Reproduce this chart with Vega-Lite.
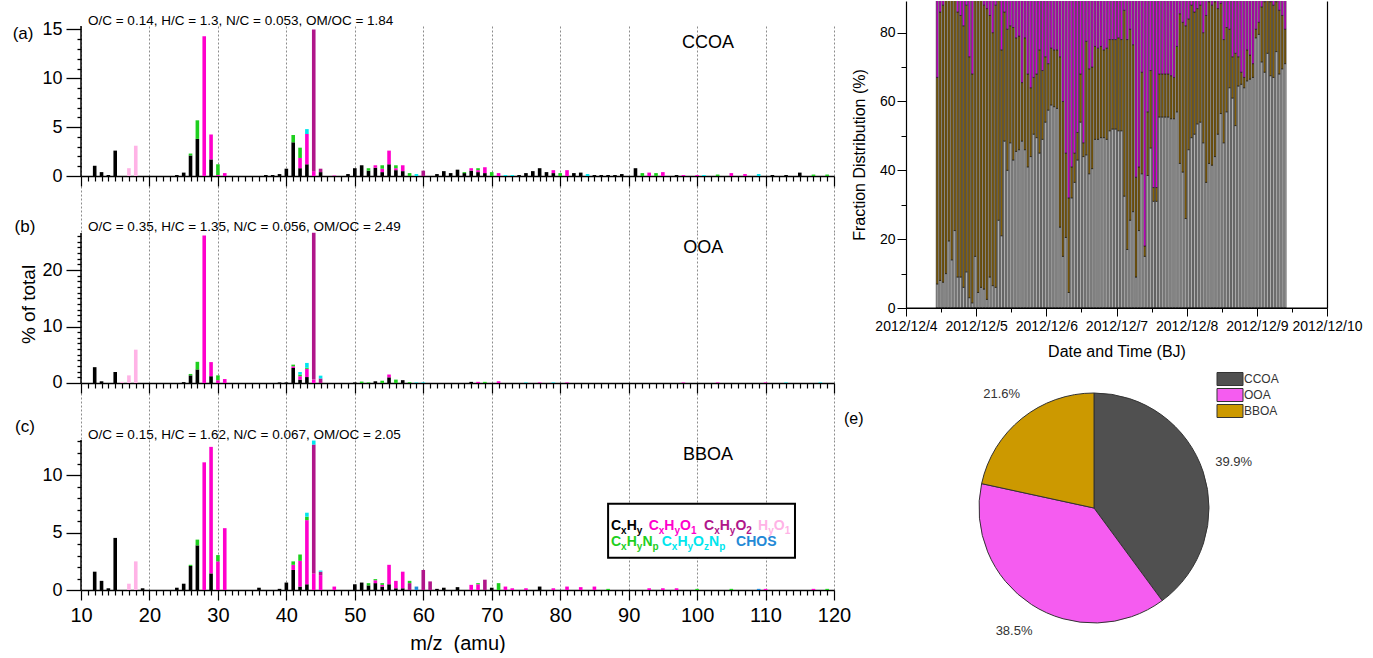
{
"$schema": "https://vega.github.io/schema/vega-lite/v6.json",
"background": "white",
"padding": {"left": 12, "top": 0, "right": 0, "bottom": 0},
"config": {
  "font": "Liberation Sans",
  "view": {"stroke": null},
  "axis": {"labelFont": "Liberation Sans", "titleFont": "Liberation Sans", "labelColor": "#000", "titleColor": "#000", "domainColor": "#000", "tickColor": "#000", "titleFontWeight": "normal", "grid": false, "labelOverlap": false, "labelFlush": false, "labelBound": false},
  "text": {"font": "Liberation Sans", "color": "#000"},
  "title": {"font": "Liberation Sans"},
  "legend": {"labelFont": "Liberation Sans"}
},
"datasets": {
  "specA": [
    {"mz":12,"fam":"CxHy","v":1.05},{"mz":13,"fam":"CxHy","v":0.4},{"mz":14,"fam":"CxHy","v":0.1},{"mz":15,"fam":"CxHy","v":2.6},
    {"mz":17,"fam":"HyO1","v":0.8},{"mz":18,"fam":"HyO1","v":3.1},{"mz":24,"fam":"CxHy","v":0.1},{"mz":25,"fam":"CxHy","v":0.35},
    {"mz":26,"fam":"CxHy","v":2.1},{"mz":26,"fam":"CxHyNp","v":0.2},
    {"mz":27,"fam":"CxHy","v":3.8},{"mz":27,"fam":"CxHyNp","v":1.9},
    {"mz":28,"fam":"CxHyO1","v":14.3},
    {"mz":29,"fam":"CxHy","v":1.7},{"mz":29,"fam":"CxHyO1","v":2.55},
    {"mz":30,"fam":"CxHyO1","v":0.1},{"mz":30,"fam":"CxHyNp","v":1.1},
    {"mz":31,"fam":"CxHyO1","v":0.3},{"mz":37,"fam":"CxHy","v":0.1},{"mz":38,"fam":"CxHy","v":0.1},{"mz":39,"fam":"CxHy","v":0.2},
    {"mz":40,"fam":"CxHy","v":0.75},
    {"mz":41,"fam":"CxHy","v":3.45},{"mz":41,"fam":"CxHyNp","v":0.75},
    {"mz":42,"fam":"CxHy","v":0.8},{"mz":42,"fam":"CxHyO1","v":1.05},{"mz":42,"fam":"CxHyNp","v":1.05},
    {"mz":43,"fam":"CxHy","v":1.2},{"mz":43,"fam":"CxHyO1","v":3.1},{"mz":43,"fam":"CxHyOzNp","v":0.5},
    {"mz":44,"fam":"CxHyO1","v":0.5},{"mz":44,"fam":"CxHyO2","v":14.5},
    {"mz":45,"fam":"CxHy","v":0.4},{"mz":45,"fam":"CxHyO2","v":0.35},
    {"mz":47,"fam":"CxHyO1","v":0.05},{"mz":49,"fam":"CxHy","v":0.2},{"mz":50,"fam":"CxHy","v":0.8},{"mz":51,"fam":"CxHy","v":1.1},
    {"mz":52,"fam":"CxHy","v":0.55},{"mz":52,"fam":"CxHyNp","v":0.25},
    {"mz":53,"fam":"CxHy","v":0.85},{"mz":53,"fam":"CxHyO1","v":0.25},
    {"mz":54,"fam":"CxHy","v":0.4},{"mz":54,"fam":"CxHyO1","v":0.35},{"mz":54,"fam":"CxHyNp","v":0.35},
    {"mz":55,"fam":"CxHy","v":1.2},{"mz":55,"fam":"CxHyO1","v":1.4},
    {"mz":56,"fam":"CxHy","v":0.6},{"mz":56,"fam":"CxHyO1","v":0.2},{"mz":56,"fam":"CxHyNp","v":0.3},
    {"mz":57,"fam":"CxHy","v":0.5},{"mz":57,"fam":"CxHyO1","v":0.6},
    {"mz":58,"fam":"CxHyNp","v":0.3},{"mz":59,"fam":"CxHyOzNp","v":0.2},{"mz":60,"fam":"CxHyO2","v":0.55},
    {"mz":62,"fam":"CxHy","v":0.2},{"mz":63,"fam":"CxHy","v":0.5},{"mz":64,"fam":"CxHy","v":0.3},{"mz":65,"fam":"CxHy","v":0.65},
    {"mz":66,"fam":"CxHy","v":0.3},{"mz":66,"fam":"CxHyNp","v":0.1},
    {"mz":67,"fam":"CxHy","v":0.55},{"mz":67,"fam":"CxHyO1","v":0.25},
    {"mz":68,"fam":"CxHy","v":0.4},{"mz":68,"fam":"CxHyO1","v":0.2},{"mz":68,"fam":"CxHyNp","v":0.2},
    {"mz":69,"fam":"CxHy","v":0.3},{"mz":69,"fam":"CxHyO1","v":0.6},
    {"mz":70,"fam":"CxHyNp","v":0.4},{"mz":71,"fam":"CxHyO1","v":0.3},{"mz":72,"fam":"CxHyOzNp","v":0.1},{"mz":73,"fam":"CxHyOzNp","v":0.1},
    {"mz":74,"fam":"CxHy","v":0.1},{"mz":75,"fam":"CxHy","v":0.3},{"mz":76,"fam":"CxHy","v":0.5},{"mz":77,"fam":"CxHy","v":0.8},{"mz":78,"fam":"CxHy","v":0.4},
    {"mz":79,"fam":"CxHy","v":0.3},{"mz":79,"fam":"CxHyO1","v":0.3},
    {"mz":80,"fam":"CxHyNp","v":0.3},{"mz":81,"fam":"CxHyO1","v":0.6},{"mz":82,"fam":"CxHy","v":0.3},{"mz":83,"fam":"CxHy","v":0.35},{"mz":84,"fam":"CxHyOzNp","v":0.2},
    {"mz":85,"fam":"CxHy","v":0.1},{"mz":86,"fam":"CxHy","v":0.1},{"mz":87,"fam":"CxHy","v":0.1},{"mz":88,"fam":"CxHy","v":0.1},{"mz":89,"fam":"CxHy","v":0.2},
    {"mz":91,"fam":"CxHy","v":0.8},{"mz":92,"fam":"CxHyNp","v":0.3},{"mz":93,"fam":"CxHyO1","v":0.35},{"mz":94,"fam":"CxHyNp","v":0.3},{"mz":95,"fam":"CxHyO1","v":0.4},
    {"mz":97,"fam":"CxHy","v":0.1},{"mz":98,"fam":"CxHyO1","v":0.1},{"mz":100,"fam":"CxHyO1","v":0.1},{"mz":101,"fam":"CxHyOzNp","v":0.1},{"mz":103,"fam":"CxHyNp","v":0.15},
    {"mz":105,"fam":"CxHyO1","v":0.3},{"mz":107,"fam":"CxHyO1","v":0.2},{"mz":109,"fam":"CxHyOzNp","v":0.2},{"mz":111,"fam":"CxHy","v":0.1},{"mz":113,"fam":"CxHy","v":0.1},
    {"mz":115,"fam":"CxHy","v":0.35},{"mz":117,"fam":"CxHyNp","v":0.15},{"mz":119,"fam":"CxHyNp","v":0.15}
  ],
  "specB": [
    {"mz":12,"fam":"CxHy","v":2.8},{"mz":13,"fam":"CxHy","v":0.3},{"mz":15,"fam":"CxHy","v":1.95},{"mz":16,"fam":"HyO1","v":0.2},
    {"mz":17,"fam":"HyO1","v":1.35},{"mz":18,"fam":"HyO1","v":5.9},{"mz":25,"fam":"CxHy","v":0.15},
    {"mz":26,"fam":"CxHy","v":1.35},{"mz":26,"fam":"CxHyNp","v":0.25},
    {"mz":27,"fam":"CxHy","v":2.4},{"mz":27,"fam":"CxHyNp","v":1.35},
    {"mz":28,"fam":"CxHyO1","v":26.1},
    {"mz":29,"fam":"CxHy","v":1.2},{"mz":29,"fam":"CxHyO1","v":2.5},
    {"mz":30,"fam":"CxHyO1","v":0.5},{"mz":30,"fam":"CxHyNp","v":0.85},
    {"mz":31,"fam":"CxHyO1","v":0.7},{"mz":39,"fam":"CxHy","v":0.1},{"mz":40,"fam":"CxHy","v":0.1},
    {"mz":41,"fam":"CxHy","v":2.65},{"mz":41,"fam":"CxHyO1","v":0.3},{"mz":41,"fam":"CxHyNp","v":0.3},
    {"mz":42,"fam":"CxHy","v":0.6},{"mz":42,"fam":"CxHyO1","v":0.6},{"mz":42,"fam":"CxHyNp","v":0.3},{"mz":42,"fam":"CxHyOzNp","v":0.45},
    {"mz":43,"fam":"CxHy","v":1.05},{"mz":43,"fam":"CxHyO1","v":1.45},{"mz":43,"fam":"CxHyNp","v":0.2},{"mz":43,"fam":"CxHyOzNp","v":0.85},
    {"mz":44,"fam":"CxHyO1","v":0.6},{"mz":44,"fam":"CxHyO2","v":26.0},
    {"mz":45,"fam":"CxHyO2","v":0.8},{"mz":45,"fam":"CxHyOzNp","v":0.5},
    {"mz":50,"fam":"CxHy","v":0.1},{"mz":51,"fam":"CxHyNp","v":0.25},{"mz":52,"fam":"CxHyNp","v":0.1},{"mz":53,"fam":"CxHy","v":0.3},{"mz":54,"fam":"CxHyNp","v":0.4},
    {"mz":55,"fam":"CxHy","v":1.0},{"mz":55,"fam":"CxHyO1","v":0.5},
    {"mz":56,"fam":"CxHyNp","v":0.6},{"mz":57,"fam":"CxHy","v":0.5},{"mz":58,"fam":"CxHyNp","v":0.15},{"mz":59,"fam":"CxHyOzNp","v":0.1},{"mz":60,"fam":"CxHyOzNp","v":0.1},
    {"mz":67,"fam":"CxHy","v":0.2},{"mz":68,"fam":"CxHyO1","v":0.2},{"mz":69,"fam":"CxHyNp","v":0.2},{"mz":71,"fam":"CxHyO1","v":0.3},{"mz":75,"fam":"CxHyOzNp","v":0.1},
    {"mz":77,"fam":"CxHyO1","v":0.1},{"mz":79,"fam":"CxHyOzNp","v":0.1},{"mz":81,"fam":"CxHyO1","v":0.1},{"mz":98,"fam":"CxHyO1","v":0.1},{"mz":103,"fam":"CxHyO1","v":0.1},
    {"mz":110,"fam":"CxHyO1","v":0.1},{"mz":113,"fam":"CxHyOzNp","v":0.1},{"mz":118,"fam":"CxHyOzNp","v":0.1}
  ],
  "specC": [
    {"mz":12,"fam":"CxHy","v":1.6},{"mz":13,"fam":"CxHy","v":0.8},{"mz":14,"fam":"CxHy","v":0.15},{"mz":15,"fam":"CxHy","v":4.55},
    {"mz":17,"fam":"HyO1","v":0.55},{"mz":18,"fam":"HyO1","v":2.5},{"mz":19,"fam":"CxHy","v":0.15},{"mz":24,"fam":"CxHy","v":0.2},{"mz":25,"fam":"CxHy","v":0.55},
    {"mz":26,"fam":"CxHy","v":2.1},{"mz":26,"fam":"CxHyNp","v":0.1},
    {"mz":27,"fam":"CxHy","v":3.9},{"mz":27,"fam":"CxHyNp","v":0.5},
    {"mz":28,"fam":"CxHyO1","v":11.15},
    {"mz":29,"fam":"CxHy","v":1.45},{"mz":29,"fam":"CxHyO1","v":11.05},
    {"mz":30,"fam":"CxHyO1","v":2.5},{"mz":30,"fam":"CxHyNp","v":0.55},
    {"mz":31,"fam":"CxHyO1","v":5.4},{"mz":36,"fam":"CxHy","v":0.2},{"mz":39,"fam":"CxHy","v":0.1},{"mz":40,"fam":"CxHy","v":0.65},
    {"mz":41,"fam":"CxHy","v":1.75},{"mz":41,"fam":"CxHyO1","v":0.45},{"mz":41,"fam":"CxHyNp","v":0.3},
    {"mz":42,"fam":"CxHy","v":0.3},{"mz":42,"fam":"CxHyO1","v":2.25},{"mz":42,"fam":"CxHyNp","v":0.55},
    {"mz":43,"fam":"CxHy","v":0.5},{"mz":43,"fam":"CxHyO1","v":5.6},{"mz":43,"fam":"CxHyNp","v":0.3},{"mz":43,"fam":"CxHyOzNp","v":0.35},
    {"mz":44,"fam":"CxHyO1","v":1.45},{"mz":44,"fam":"CxHyO2","v":11.25},{"mz":44,"fam":"CxHyOzNp","v":0.35},
    {"mz":45,"fam":"CxHyO1","v":1.3},{"mz":45,"fam":"CxHyO2","v":0.3},{"mz":45,"fam":"CxHyOzNp","v":0.1},
    {"mz":47,"fam":"CxHyO1","v":0.3},{"mz":50,"fam":"CxHy","v":0.5},{"mz":51,"fam":"CxHy","v":0.65},
    {"mz":52,"fam":"CxHy","v":0.4},{"mz":52,"fam":"CxHyNp","v":0.2},
    {"mz":53,"fam":"CxHy","v":0.6},{"mz":53,"fam":"CxHyO1","v":0.25},{"mz":53,"fam":"CxHyNp","v":0.1},
    {"mz":54,"fam":"CxHy","v":0.3},{"mz":54,"fam":"CxHyO1","v":0.15},{"mz":54,"fam":"CxHyNp","v":0.15},
    {"mz":55,"fam":"CxHy","v":0.5},{"mz":55,"fam":"CxHyO1","v":1.7},
    {"mz":56,"fam":"CxHy","v":0.15},{"mz":56,"fam":"CxHyO1","v":0.65},
    {"mz":57,"fam":"CxHy","v":0.15},{"mz":57,"fam":"CxHyO1","v":1.45},
    {"mz":58,"fam":"CxHyO2","v":0.6},{"mz":58,"fam":"CxHyNp","v":0.2},
    {"mz":59,"fam":"CHOS","v":0.3},{"mz":60,"fam":"CxHyO2","v":1.75},{"mz":61,"fam":"CxHyO2","v":0.75},{"mz":62,"fam":"CxHy","v":0.1},{"mz":63,"fam":"CxHy","v":0.2},
    {"mz":65,"fam":"CxHy","v":0.25},{"mz":67,"fam":"CxHyO1","v":0.45},
    {"mz":68,"fam":"CxHyO1","v":0.5},{"mz":68,"fam":"CxHyNp","v":0.1},
    {"mz":69,"fam":"CxHyO2","v":0.9},{"mz":70,"fam":"CxHy","v":0.2},{"mz":71,"fam":"CxHyNp","v":0.6},{"mz":72,"fam":"CxHyO1","v":0.3},{"mz":73,"fam":"CxHyO1","v":0.15},
    {"mz":75,"fam":"CxHyO1","v":0.15},{"mz":77,"fam":"CxHy","v":0.3},{"mz":79,"fam":"CxHyO1","v":0.15},{"mz":81,"fam":"CxHyO1","v":0.3},{"mz":83,"fam":"CxHyO1","v":0.25},
    {"mz":85,"fam":"CxHyO1","v":0.3},{"mz":87,"fam":"CxHyNp","v":0.1},{"mz":93,"fam":"CxHyO1","v":0.15},{"mz":95,"fam":"CxHyO1","v":0.15},{"mz":97,"fam":"CxHyO1","v":0.15},
    {"mz":100,"fam":"CxHyNp","v":0.1},{"mz":105,"fam":"CxHyNp","v":0.1},{"mz":109,"fam":"CHOS","v":0.1},{"mz":110,"fam":"CxHyO1","v":0.1},{"mz":117,"fam":"CxHyO1","v":0.1},
    {"mz":119,"fam":"CxHyNp","v":0.1}
  ],
  "legMain": [
    {"fam":"CxHy","t":"C","x":87.43,"y":5.62},{"fam":"CxHy","t":"H","x":89.72,"y":5.62},
    {"fam":"CxHyO1","t":"C","x":92.93,"y":5.62},{"fam":"CxHyO1","t":"H","x":95.22,"y":5.62},{"fam":"CxHyO1","t":"O","x":97.52,"y":5.62},
    {"fam":"CxHyO2","t":"C","x":101.01,"y":5.62},{"fam":"CxHyO2","t":"H","x":103.3,"y":5.62},{"fam":"CxHyO2","t":"O","x":105.6,"y":5.62},
    {"fam":"HyO1","t":"H","x":108.9,"y":5.62},{"fam":"HyO1","t":"O","x":111.2,"y":5.62},
    {"fam":"CxHyNp","t":"C","x":87.43,"y":4.22},{"fam":"CxHyNp","t":"H","x":89.72,"y":4.22},{"fam":"CxHyNp","t":"N","x":92.02,"y":4.22},
    {"fam":"CxHyOzNp","t":"C","x":94.82,"y":4.22},{"fam":"CxHyOzNp","t":"H","x":97.12,"y":4.22},{"fam":"CxHyOzNp","t":"O","x":99.41,"y":4.22},{"fam":"CxHyOzNp","t":"N","x":101.74,"y":4.22},
    {"fam":"CHOS","t":"CHOS","x":105.69,"y":4.22}
  ],
  "legSub": [
    {"fam":"CxHy","t":"x","x":88.9,"y":5.62},{"fam":"CxHy","t":"y","x":91.2,"y":5.62},
    {"fam":"CxHyO1","t":"x","x":94.41,"y":5.62},{"fam":"CxHyO1","t":"y","x":96.7,"y":5.62},{"fam":"CxHyO1","t":"1","x":99.11,"y":5.62},
    {"fam":"CxHyO2","t":"x","x":102.49,"y":5.62},{"fam":"CxHyO2","t":"y","x":104.78,"y":5.62},{"fam":"CxHyO2","t":"2","x":107.19,"y":5.62},
    {"fam":"HyO1","t":"y","x":110.38,"y":5.62},{"fam":"HyO1","t":"1","x":112.79,"y":5.62},
    {"fam":"CxHyNp","t":"x","x":88.9,"y":4.22},{"fam":"CxHyNp","t":"y","x":91.2,"y":4.22},{"fam":"CxHyNp","t":"p","x":93.48,"y":4.22},
    {"fam":"CxHyOzNp","t":"x","x":96.3,"y":4.22},{"fam":"CxHyOzNp","t":"y","x":98.59,"y":4.22},{"fam":"CxHyOzNp","t":"z","x":101.01,"y":4.22},{"fam":"CxHyOzNp","t":"p","x":103.22,"y":4.22}
  ],
  "ts": [
    {"t":"2012-12-04T10:00:00","CCOA":7,"BBOA":60,"OOA":33},{"t":"2012-12-04T11:00:00","CCOA":8,"BBOA":78,"OOA":14},
    {"t":"2012-12-04T12:00:00","CCOA":7.5,"BBOA":80.5,"OOA":12},{"t":"2012-12-04T13:00:00","CCOA":10,"BBOA":80,"OOA":10},
    {"t":"2012-12-04T14:00:00","CCOA":19.5,"BBOA":72.5,"OOA":8},{"t":"2012-12-04T15:00:00","CCOA":14,"BBOA":79,"OOA":7},
    {"t":"2012-12-04T16:00:00","CCOA":22.5,"BBOA":71.5,"OOA":6},{"t":"2012-12-04T17:00:00","CCOA":9,"BBOA":77,"OOA":14},
    {"t":"2012-12-04T18:00:00","CCOA":9,"BBOA":76,"OOA":15},{"t":"2012-12-04T19:00:00","CCOA":6,"BBOA":76,"OOA":18},
    {"t":"2012-12-04T20:00:00","CCOA":10.5,"BBOA":77.5,"OOA":12},{"t":"2012-12-04T21:00:00","CCOA":3,"BBOA":70,"OOA":27},
    {"t":"2012-12-04T22:00:00","CCOA":1.5,"BBOA":66.5,"OOA":32},{"t":"2012-12-04T23:00:00","CCOA":15,"BBOA":75,"OOA":10},
    {"t":"2012-12-05T00:00:00","CCOA":4.5,"BBOA":86.5,"OOA":9},{"t":"2012-12-05T01:00:00","CCOA":6,"BBOA":86,"OOA":8},
    {"t":"2012-12-05T02:00:00","CCOA":5.5,"BBOA":82.5,"OOA":12},{"t":"2012-12-05T03:00:00","CCOA":2.5,"BBOA":84.5,"OOA":13},
    {"t":"2012-12-05T04:00:00","CCOA":9,"BBOA":76,"OOA":15},{"t":"2012-12-05T05:00:00","CCOA":6.5,"BBOA":73.5,"OOA":20},
    {"t":"2012-12-05T06:00:00","CCOA":6,"BBOA":82,"OOA":12},{"t":"2012-12-05T07:00:00","CCOA":25.5,"BBOA":65.5,"OOA":9},
    {"t":"2012-12-05T08:00:00","CCOA":21,"BBOA":54,"OOA":25},{"t":"2012-12-05T09:00:00","CCOA":48.5,"BBOA":37.5,"OOA":14},
    {"t":"2012-12-05T10:00:00","CCOA":40,"BBOA":41,"OOA":19},{"t":"2012-12-05T11:00:00","CCOA":48,"BBOA":34,"OOA":18},
    {"t":"2012-12-05T12:00:00","CCOA":43,"BBOA":38.5,"OOA":18.5},{"t":"2012-12-05T13:00:00","CCOA":45.5,"BBOA":33,"OOA":21.5},
    {"t":"2012-12-05T14:00:00","CCOA":46,"BBOA":33,"OOA":21},{"t":"2012-12-05T15:00:00","CCOA":48.5,"BBOA":17,"OOA":34.5},
    {"t":"2012-12-05T16:00:00","CCOA":46,"BBOA":32.5,"OOA":21.5},{"t":"2012-12-05T17:00:00","CCOA":41,"BBOA":27,"OOA":32},
    {"t":"2012-12-05T18:00:00","CCOA":44,"BBOA":20,"OOA":36},{"t":"2012-12-05T19:00:00","CCOA":50.5,"BBOA":16.5,"OOA":33},
    {"t":"2012-12-05T20:00:00","CCOA":49.5,"BBOA":18.5,"OOA":32},{"t":"2012-12-05T21:00:00","CCOA":45,"BBOA":30,"OOA":25},
    {"t":"2012-12-05T22:00:00","CCOA":49,"BBOA":20,"OOA":31},{"t":"2012-12-05T23:00:00","CCOA":54,"BBOA":19,"OOA":27},
    {"t":"2012-12-06T00:00:00","CCOA":57.5,"BBOA":13.5,"OOA":29},{"t":"2012-12-06T01:00:00","CCOA":59,"BBOA":16.5,"OOA":24.5},
    {"t":"2012-12-06T02:00:00","CCOA":58.5,"BBOA":16.5,"OOA":25},{"t":"2012-12-06T03:00:00","CCOA":58,"BBOA":17,"OOA":25},
    {"t":"2012-12-06T04:00:00","CCOA":23.5,"BBOA":49.5,"OOA":27},{"t":"2012-12-06T05:00:00","CCOA":15,"BBOA":45,"OOA":40},
    {"t":"2012-12-06T06:00:00","CCOA":20.5,"BBOA":24.5,"OOA":55},{"t":"2012-12-06T07:00:00","CCOA":4.5,"BBOA":27.5,"OOA":68},
    {"t":"2012-12-06T08:00:00","CCOA":32,"BBOA":9,"OOA":59},{"t":"2012-12-06T09:00:00","CCOA":36.5,"BBOA":8.5,"OOA":55},
    {"t":"2012-12-06T10:00:00","CCOA":43,"BBOA":8,"OOA":49},{"t":"2012-12-06T11:00:00","CCOA":54,"BBOA":14,"OOA":32},
    {"t":"2012-12-06T12:00:00","CCOA":44,"BBOA":4,"OOA":52},{"t":"2012-12-06T13:00:00","CCOA":44.5,"BBOA":33,"OOA":22.5},
    {"t":"2012-12-06T14:00:00","CCOA":39,"BBOA":30.5,"OOA":30.5},{"t":"2012-12-06T15:00:00","CCOA":40.5,"BBOA":29.5,"OOA":30},
    {"t":"2012-12-06T16:00:00","CCOA":49,"BBOA":27,"OOA":24},{"t":"2012-12-06T17:00:00","CCOA":49,"BBOA":26.5,"OOA":24.5},
    {"t":"2012-12-06T18:00:00","CCOA":49.5,"BBOA":26.5,"OOA":24},{"t":"2012-12-06T19:00:00","CCOA":49.5,"BBOA":25.5,"OOA":25},
    {"t":"2012-12-06T20:00:00","CCOA":49,"BBOA":26.5,"OOA":24.5},{"t":"2012-12-06T21:00:00","CCOA":51.5,"BBOA":26.5,"OOA":22},
    {"t":"2012-12-06T22:00:00","CCOA":52,"BBOA":26,"OOA":22},{"t":"2012-12-06T23:00:00","CCOA":52,"BBOA":26,"OOA":22},
    {"t":"2012-12-07T00:00:00","CCOA":51.5,"BBOA":27,"OOA":21.5},{"t":"2012-12-07T01:00:00","CCOA":51.5,"BBOA":26.5,"OOA":22},
    {"t":"2012-12-07T02:00:00","CCOA":32.5,"BBOA":54,"OOA":13.5},{"t":"2012-12-07T03:00:00","CCOA":17,"BBOA":61,"OOA":22},
    {"t":"2012-12-07T04:00:00","CCOA":25.5,"BBOA":55.5,"OOA":19},{"t":"2012-12-07T05:00:00","CCOA":28,"BBOA":48.5,"OOA":23.5},
    {"t":"2012-12-07T06:00:00","CCOA":9,"BBOA":29,"OOA":62},{"t":"2012-12-07T07:00:00","CCOA":22.5,"BBOA":18.5,"OOA":59},
    {"t":"2012-12-07T08:00:00","CCOA":39,"BBOA":29.5,"OOA":31.5},{"t":"2012-12-07T09:00:00","CCOA":15,"BBOA":3,"OOA":82},
    {"t":"2012-12-07T10:00:00","CCOA":38.5,"BBOA":18.5,"OOA":43},{"t":"2012-12-07T11:00:00","CCOA":46.5,"BBOA":22.5,"OOA":31},
    {"t":"2012-12-07T12:00:00","CCOA":31,"BBOA":4,"OOA":65},{"t":"2012-12-07T13:00:00","CCOA":31,"BBOA":4,"OOA":65},
    {"t":"2012-12-07T14:00:00","CCOA":55.5,"BBOA":12.5,"OOA":32},{"t":"2012-12-07T15:00:00","CCOA":55.5,"BBOA":12.5,"OOA":32},
    {"t":"2012-12-07T16:00:00","CCOA":55.5,"BBOA":12.5,"OOA":32},{"t":"2012-12-07T17:00:00","CCOA":55.5,"BBOA":12.5,"OOA":32},
    {"t":"2012-12-07T18:00:00","CCOA":55,"BBOA":12.5,"OOA":32.5},{"t":"2012-12-07T19:00:00","CCOA":55,"BBOA":12,"OOA":33},
    {"t":"2012-12-07T20:00:00","CCOA":57,"BBOA":19,"OOA":24},{"t":"2012-12-07T21:00:00","CCOA":42,"BBOA":43.5,"OOA":14.5},
    {"t":"2012-12-07T22:00:00","CCOA":39.5,"BBOA":43.5,"OOA":17},{"t":"2012-12-07T23:00:00","CCOA":26,"BBOA":56,"OOA":18},
    {"t":"2012-12-08T00:00:00","CCOA":46,"BBOA":38,"OOA":16},{"t":"2012-12-08T01:00:00","CCOA":49.5,"BBOA":38.5,"OOA":12},
    {"t":"2012-12-08T02:00:00","CCOA":50.5,"BBOA":35.5,"OOA":14},{"t":"2012-12-08T03:00:00","CCOA":53.5,"BBOA":33.5,"OOA":13},
    {"t":"2012-12-08T04:00:00","CCOA":54,"BBOA":34,"OOA":12},{"t":"2012-12-08T05:00:00","CCOA":48,"BBOA":32,"OOA":20},
    {"t":"2012-12-08T06:00:00","CCOA":36.5,"BBOA":48.5,"OOA":15},{"t":"2012-12-08T07:00:00","CCOA":42,"BBOA":47,"OOA":11},
    {"t":"2012-12-08T08:00:00","CCOA":41.5,"BBOA":46.5,"OOA":12},{"t":"2012-12-08T09:00:00","CCOA":44,"BBOA":45,"OOA":11},
    {"t":"2012-12-08T10:00:00","CCOA":50.5,"BBOA":36.5,"OOA":13},{"t":"2012-12-08T11:00:00","CCOA":56.5,"BBOA":32,"OOA":11.5},
    {"t":"2012-12-08T12:00:00","CCOA":48,"BBOA":30,"OOA":22},{"t":"2012-12-08T13:00:00","CCOA":57,"BBOA":24.5,"OOA":18.5},
    {"t":"2012-12-08T14:00:00","CCOA":64,"BBOA":17,"OOA":19},{"t":"2012-12-08T15:00:00","CCOA":61,"BBOA":12,"OOA":27},
    {"t":"2012-12-08T16:00:00","CCOA":53,"BBOA":21,"OOA":26},{"t":"2012-12-08T17:00:00","CCOA":64.5,"BBOA":8.5,"OOA":27},
    {"t":"2012-12-08T18:00:00","CCOA":65,"BBOA":3.5,"OOA":31.5},{"t":"2012-12-08T19:00:00","CCOA":64,"BBOA":3,"OOA":33},
    {"t":"2012-12-08T20:00:00","CCOA":66,"BBOA":9,"OOA":25},{"t":"2012-12-08T21:00:00","CCOA":66.5,"BBOA":7,"OOA":26.5},
    {"t":"2012-12-08T22:00:00","CCOA":67,"BBOA":4,"OOA":29},{"t":"2012-12-08T23:00:00","CCOA":78.5,"BBOA":2.5,"OOA":19},
    {"t":"2012-12-09T00:00:00","CCOA":79.5,"BBOA":3.5,"OOA":17},{"t":"2012-12-09T01:00:00","CCOA":71.5,"BBOA":16,"OOA":12.5},
    {"t":"2012-12-09T02:00:00","CCOA":68.5,"BBOA":20.5,"OOA":11},{"t":"2012-12-09T03:00:00","CCOA":74,"BBOA":17,"OOA":9},
    {"t":"2012-12-09T04:00:00","CCOA":67.5,"BBOA":21.5,"OOA":11},{"t":"2012-12-09T05:00:00","CCOA":67,"BBOA":21,"OOA":12},
    {"t":"2012-12-09T06:00:00","CCOA":74.5,"BBOA":14.5,"OOA":11},{"t":"2012-12-09T07:00:00","CCOA":68,"BBOA":18.5,"OOA":13.5},
    {"t":"2012-12-09T08:00:00","CCOA":69.5,"BBOA":15.5,"OOA":15},{"t":"2012-12-09T09:00:00","CCOA":71,"BBOA":10,"OOA":19}
  ],
  "pie": [
    {"src":"CCOA","v":39.9,"lab":"39.9%"},{"src":"OOA","v":38.5,"lab":"38.5%"},{"src":"BBOA","v":21.6,"lab":"21.6%"}
  ]
},
"hconcat": [
  {
    "vconcat": [
      {"width": 753, "height": 25, "view": {"stroke": "transparent"}, "data": {"values": [{}]}, "mark": {"type": "point", "opacity": 0}, "encoding": {}},
      {
        "width": 753, "height": 207,
        "resolve": {"axis": {"x": "independent", "y": "independent"}},
        "layer": [
          {"data": {"name": "specA"}, "transform": [{"stack": "v", "groupby": ["mz"], "as": ["v0", "v1"]}],
           "mark": {"type": "bar", "width": 3.6},
           "encoding": {
             "x": {"field": "mz", "type": "quantitative", "scale": {"domain": [10, 120], "nice": false, "zero": false, "padding": 0},
                   "axis": {"values": [10,11,12,13,14,15,16,17,18,19,20,21,22,23,24,25,26,27,28,29,30,31,32,33,34,35,36,37,38,39,40,41,42,43,44,45,46,47,48,49,50,51,52,53,54,55,56,57,58,59,60,61,62,63,64,65,66,67,68,69,70,71,72,73,74,75,76,77,78,79,80,81,82,83,84,85,86,87,88,89,90,91,92,93,94,95,96,97,98,99,100,101,102,103,104,105,106,107,108,109,110,111,112,113,114,115,116,117,118,119,120],
                            "labels": false, "title": null, "offset": -57, "domainWidth": 1.5, "tickWidth": 1.2,
                            "tickSize": {"condition": {"test": "datum.value % 10 === 0", "value": 10}, "value": 5},
                            "grid": true, "gridColor": "#8c8c8c", "gridDash": [2, 2], "gridWidth": 1,
                            "gridOpacity": {"condition": {"test": "datum.value % 10 === 0", "value": 1}, "value": 0}}},
             "y": {"field": "v1", "type": "quantitative", "scale": {"domain": [-5.83, 15.35], "nice": false, "zero": false, "padding": 0},
                   "axis": {"values": [0,1,2,3,4,5,6,7,8,9,10,11,12,13,14,15], "labelExpr": "datum.value % 5 === 0 ? datum.label : ''",
                            "tickSize": {"condition": {"test": "datum.value % 5 === 0", "value": 15}, "value": 4},
                            "labelFontSize": 18, "labelPadding": 4, "domain": false, "title": null, "tickWidth": 1.3}},
             "y2": {"field": "v0"},
             "color": {"field": "fam", "type": "nominal", "scale": {"domain": ["CxHy","CxHyO1","CxHyO2","HyO1","CxHyNp","CxHyOzNp","CHOS"], "range": ["#000000","#ff00cc","#b0168a","#ffb3e6","#1ecf1e","#00e6ee","#2389d6"]}, "legend": null}
           }},
          {"data": {"values": [{}]}, "mark": {"type": "rule", "color": "black", "strokeWidth": 1.5},
           "encoding": {"x": {"datum": 10, "type": "quantitative", "axis": null}, "y": {"datum": 0, "type": "quantitative", "axis": null}, "y2": {"datum": 15.35}}},
          {"data": {"values": [{"label": "O/C = 0.14, H/C = 1.3, N/C = 0.053, OM/OC = 1.84", "x": 11.02, "y": 15.87}]},
           "mark": {"type": "text", "align": "left", "baseline": "middle", "fontSize": 13.5},
           "encoding": {"x": {"field": "x", "type": "quantitative", "axis": null}, "y": {"field": "y", "type": "quantitative", "axis": null}, "text": {"field": "label"}}},
          {"data": {"values": [{"label": "(a)", "x": 1.53, "y": 14.53}]},
           "mark": {"type": "text", "align": "center", "baseline": "middle", "fontSize": 17},
           "encoding": {"x": {"field": "x", "type": "quantitative", "axis": null}, "y": {"field": "y", "type": "quantitative", "axis": null}, "text": {"field": "label"}}},
          {"data": {"values": [{"label": "CCOA", "x": 101.6, "y": 13.6}]},
           "mark": {"type": "text", "align": "center", "baseline": "middle", "fontSize": 18},
           "encoding": {"x": {"field": "x", "type": "quantitative", "axis": null}, "y": {"field": "y", "type": "quantitative", "axis": null}, "text": {"field": "label"}}}
        ]
      },
      {
        "width": 753, "height": 207,
        "resolve": {"axis": {"x": "independent", "y": "independent"}},
        "layer": [
          {"data": {"name": "specB"}, "transform": [{"stack": "v", "groupby": ["mz"], "as": ["v0", "v1"]}],
           "mark": {"type": "bar", "width": 3.6},
           "encoding": {
             "x": {"field": "mz", "type": "quantitative", "scale": {"domain": [10, 120], "nice": false, "zero": false, "padding": 0},
                   "axis": {"values": [10,11,12,13,14,15,16,17,18,19,20,21,22,23,24,25,26,27,28,29,30,31,32,33,34,35,36,37,38,39,40,41,42,43,44,45,46,47,48,49,50,51,52,53,54,55,56,57,58,59,60,61,62,63,64,65,66,67,68,69,70,71,72,73,74,75,76,77,78,79,80,81,82,83,84,85,86,87,88,89,90,91,92,93,94,95,96,97,98,99,100,101,102,103,104,105,106,107,108,109,110,111,112,113,114,115,116,117,118,119,120],
                            "labels": false, "title": null, "offset": -57, "domainWidth": 1.5, "tickWidth": 1.2,
                            "tickSize": {"condition": {"test": "datum.value % 10 === 0", "value": 10}, "value": 5},
                            "grid": true, "gridColor": "#8c8c8c", "gridDash": [2, 2], "gridWidth": 1,
                            "gridOpacity": {"condition": {"test": "datum.value % 10 === 0", "value": 1}, "value": 0}}},
             "y": {"field": "v1", "type": "quantitative", "scale": {"domain": [-10.09, 26.55], "nice": false, "zero": false, "padding": 0},
                   "axis": {"values": [0,1,2,3,4,5,6,7,8,9,10,11,12,13,14,15,16,17,18,19,20,21,22,23,24,25,26], "labelExpr": "datum.value % 10 === 0 ? datum.label : ''",
                            "tickSize": {"condition": {"test": "datum.value % 10 === 0", "value": 15}, "value": 4},
                            "labelFontSize": 18, "labelPadding": 4, "domain": false, "tickWidth": 1.3,
                            "title": "% of total", "titleFontSize": 19, "titlePadding": 3, "titleY": 71}},
             "y2": {"field": "v0"},
             "color": {"field": "fam", "type": "nominal", "scale": {"domain": ["CxHy","CxHyO1","CxHyO2","HyO1","CxHyNp","CxHyOzNp","CHOS"], "range": ["#000000","#ff00cc","#b0168a","#ffb3e6","#1ecf1e","#00e6ee","#2389d6"]}, "legend": null}
           }},
          {"data": {"values": [{}]}, "mark": {"type": "rule", "color": "black", "strokeWidth": 1.5},
           "encoding": {"x": {"datum": 10, "type": "quantitative", "axis": null}, "y": {"datum": 0, "type": "quantitative", "axis": null}, "y2": {"datum": 26.55}}},
          {"data": {"values": [{"label": "O/C = 0.35, H/C = 1.35, N/C = 0.056, OM/OC = 2.49", "x": 11.02, "y": 27.6}]},
           "mark": {"type": "text", "align": "left", "baseline": "middle", "fontSize": 13.5},
           "encoding": {"x": {"field": "x", "type": "quantitative", "axis": null}, "y": {"field": "y", "type": "quantitative", "axis": null}, "text": {"field": "label"}}},
          {"data": {"values": [{"label": "(b)", "x": 1.82, "y": 27.6}]},
           "mark": {"type": "text", "align": "center", "baseline": "middle", "fontSize": 17},
           "encoding": {"x": {"field": "x", "type": "quantitative", "axis": null}, "y": {"field": "y", "type": "quantitative", "axis": null}, "text": {"field": "label"}}},
          {"data": {"values": [{"label": "OOA", "x": 100.9, "y": 23.9}]},
           "mark": {"type": "text", "align": "center", "baseline": "middle", "fontSize": 18},
           "encoding": {"x": {"field": "x", "type": "quantitative", "axis": null}, "y": {"field": "y", "type": "quantitative", "axis": null}, "text": {"field": "label"}}}
        ]
      },
      {
        "width": 753, "height": 150,
        "resolve": {"axis": {"x": "independent", "y": "independent"}},
        "layer": [
          {"data": {"name": "specC"}, "transform": [{"stack": "v", "groupby": ["mz"], "as": ["v0", "v1"]}],
           "mark": {"type": "bar", "width": 3.6},
           "encoding": {
             "x": {"field": "mz", "type": "quantitative", "scale": {"domain": [10, 120], "nice": false, "zero": false, "padding": 0},
                   "axis": {"values": [10,11,12,13,14,15,16,17,18,19,20,21,22,23,24,25,26,27,28,29,30,31,32,33,34,35,36,37,38,39,40,41,42,43,44,45,46,47,48,49,50,51,52,53,54,55,56,57,58,59,60,61,62,63,64,65,66,67,68,69,70,71,72,73,74,75,76,77,78,79,80,81,82,83,84,85,86,87,88,89,90,91,92,93,94,95,96,97,98,99,100,101,102,103,104,105,106,107,108,109,110,111,112,113,114,115,116,117,118,119,120],
                            "labelExpr": "datum.value % 10 === 0 ? datum.label : ''", "labelFontSize": 20, "labelPadding": 5,
                            "title": "m/z\u00a0 (amu)", "titleFontSize": 20, "titlePadding": 8,
                            "domainWidth": 1.5, "tickWidth": 1.2,
                            "tickSize": {"condition": {"test": "datum.value % 10 === 0", "value": 10}, "value": 5},
                            "grid": true, "gridColor": "#8c8c8c", "gridDash": [2, 2], "gridWidth": 1,
                            "gridOpacity": {"condition": {"test": "datum.value % 10 === 0", "value": 1}, "value": 0}}},
             "y": {"field": "v1", "type": "quantitative", "scale": {"domain": [0, 13.1], "nice": false, "zero": false, "padding": 0},
                   "axis": {"values": [0,1,2,3,4,5,6,7,8,9,10,11,12,13], "labelExpr": "datum.value % 5 === 0 ? datum.label : ''",
                            "tickSize": {"condition": {"test": "datum.value % 5 === 0", "value": 15}, "value": 4},
                            "labelFontSize": 18, "labelPadding": 4, "domain": false, "title": null, "tickWidth": 1.3}},
             "y2": {"field": "v0"},
             "color": {"field": "fam", "type": "nominal", "scale": {"domain": ["CxHy","CxHyO1","CxHyO2","HyO1","CxHyNp","CxHyOzNp","CHOS"], "range": ["#000000","#ff00cc","#b0168a","#ffb3e6","#1ecf1e","#00e6ee","#2389d6"]}, "legend": null}
           }},
          {"data": {"values": [{}]}, "mark": {"type": "rule", "color": "black", "strokeWidth": 1.5},
           "encoding": {"x": {"datum": 10, "type": "quantitative", "axis": null}, "y": {"datum": 0, "type": "quantitative", "axis": null}, "y2": {"datum": 13.1}}},
          {"data": {"values": [{"label": "O/C = 0.15, H/C = 1.62, N/C = 0.067, OM/OC = 2.05", "x": 11.02, "y": 13.57}]},
           "mark": {"type": "text", "align": "left", "baseline": "middle", "fontSize": 13.5},
           "encoding": {"x": {"field": "x", "type": "quantitative", "axis": null}, "y": {"field": "y", "type": "quantitative", "axis": null}, "text": {"field": "label"}}},
          {"data": {"values": [{"label": "(c)", "x": 1.82, "y": 14.27}]},
           "mark": {"type": "text", "align": "center", "baseline": "middle", "fontSize": 17},
           "encoding": {"x": {"field": "x", "type": "quantitative", "axis": null}, "y": {"field": "y", "type": "quantitative", "axis": null}, "text": {"field": "label"}}},
          {"data": {"values": [{"label": "BBOA", "x": 101.6, "y": 11.83}]},
           "mark": {"type": "text", "align": "center", "baseline": "middle", "fontSize": 18},
           "encoding": {"x": {"field": "x", "type": "quantitative", "axis": null}, "y": {"field": "y", "type": "quantitative", "axis": null}, "text": {"field": "label"}}},
          {"data": {"values": [{"x1": 87.0, "x2": 114.3, "y1": 2.82, "y2": 7.54}]},
           "mark": {"type": "rect", "fill": "white", "stroke": "black", "strokeWidth": 2},
           "encoding": {"x": {"field": "x1", "type": "quantitative", "axis": null}, "x2": {"field": "x2"}, "y": {"field": "y1", "type": "quantitative", "axis": null}, "y2": {"field": "y2"}}},
          {"data": {"name": "legMain"},
           "mark": {"type": "text", "align": "left", "baseline": "middle", "fontSize": 14, "fontWeight": "bold"},
           "encoding": {"x": {"field": "x", "type": "quantitative", "axis": null}, "y": {"field": "y", "type": "quantitative", "axis": null}, "text": {"field": "t"},
                        "color": {"field": "fam", "type": "nominal", "scale": {"domain": ["CxHy","CxHyO1","CxHyO2","HyO1","CxHyNp","CxHyOzNp","CHOS"], "range": ["#000000","#ff00cc","#b0168a","#ffb3e6","#1ecf1e","#00e6ee","#2389d6"]}, "legend": null}}},
          {"data": {"name": "legSub"},
           "mark": {"type": "text", "align": "left", "baseline": "middle", "fontSize": 10, "fontWeight": "bold", "dy": 5},
           "encoding": {"x": {"field": "x", "type": "quantitative", "axis": null}, "y": {"field": "y", "type": "quantitative", "axis": null}, "text": {"field": "t"},
                        "color": {"field": "fam", "type": "nominal", "scale": {"domain": ["CxHy","CxHyO1","CxHyO2","HyO1","CxHyNp","CxHyOzNp","CHOS"], "range": ["#000000","#ff00cc","#b0168a","#ffb3e6","#1ecf1e","#00e6ee","#2389d6"]}, "legend": null}}}
        ]
      }
    ],
    "spacing": 0,
    "bounds": "flush",
    "resolve": {"scale": {"x": "independent", "y": "independent"}}
  },
  {
    "vconcat": [
      {
        "width": 421, "height": 307,
        "view": {"stroke": "transparent"},
        "layer": [
          {"data": {"name": "ts"},
           "transform": [{"fold": ["CCOA", "BBOA", "OOA"], "as": ["f", "frac"]}, {"stack": "frac", "groupby": ["t"], "as": ["y0", "y1"]}],
           "mark": {"type": "bar", "clip": true, "stroke": "#111", "strokeWidth": 0.6},
           "encoding": {
             "x": {"field": "t", "type": "temporal", "timeUnit": "yearmonthdatehours",
                   "scale": {"domain": [{"year": 2012, "month": 12, "date": 4}, {"year": 2012, "month": 12, "date": 10}]},
                   "axis": {"values": [{"year": 2012, "month": 12, "date": 4}, {"year": 2012, "month": 12, "date": 4, "hours": 12},
                                       {"year": 2012, "month": 12, "date": 5}, {"year": 2012, "month": 12, "date": 5, "hours": 12},
                                       {"year": 2012, "month": 12, "date": 6}, {"year": 2012, "month": 12, "date": 6, "hours": 12},
                                       {"year": 2012, "month": 12, "date": 7}, {"year": 2012, "month": 12, "date": 7, "hours": 12},
                                       {"year": 2012, "month": 12, "date": 8}, {"year": 2012, "month": 12, "date": 8, "hours": 12},
                                       {"year": 2012, "month": 12, "date": 9}, {"year": 2012, "month": 12, "date": 9, "hours": 12},
                                       {"year": 2012, "month": 12, "date": 10}],
                            "labelExpr": "hours(datum.value) === 0 ? timeFormat(datum.value, '%Y/%m/%-d') : ''",
                            "tickSize": {"condition": {"test": "hours(datum.value) === 0", "value": 8}, "value": 4},
                            "labelFontSize": 14, "labelPadding": 3, "title": "Date and Time (BJ)", "titleFontSize": 16, "titlePadding": 10,
                            "domainWidth": 1.2, "grid": false}},
             "y": {"field": "y1", "type": "quantitative", "scale": {"domain": [0, 89.2], "nice": false, "zero": true},
                   "axis": {"values": [0, 10, 20, 30, 40, 50, 60, 70, 80], "labelExpr": "datum.value % 20 === 0 ? datum.label : ''",
                            "tickSize": {"condition": {"test": "datum.value % 20 === 0", "value": 9}, "value": 5},
                            "labelFontSize": 14, "labelPadding": 2, "title": "Fraction Distribution (%)", "titleFontSize": 16, "titlePadding": 12,
                            "domainWidth": 1.2, "grid": false}},
             "y2": {"field": "y0"},
             "color": {"field": "f", "type": "nominal", "scale": {"domain": ["CCOA", "BBOA", "OOA"], "range": ["#b8b8b8", "#8c6508", "#e000e0"]}, "legend": null}
           }},
          {"data": {"values": [{}]}, "mark": {"type": "rule", "color": "black"},
           "encoding": {"y": {"datum": 0, "type": "quantitative", "axis": {"orient": "right", "labels": false, "ticks": false, "title": null, "domainWidth": 1.2, "grid": false}}}}
        ],
        "resolve": {"axis": {"y": "independent"}}
      },
      {
        "width": 376, "height": 270,
        "title": {"text": "(e)", "anchor": "start", "frame": "group", "fontSize": 16, "fontWeight": "normal", "color": "black", "offset": 0, "baseline": "middle", "dx": -62, "dy": 63},
        "data": {"name": "pie"},
        "layer": [
          {"mark": {"type": "arc", "outerRadius": 115, "stroke": "#333", "strokeWidth": 1},
           "encoding": {
             "theta": {"field": "v", "type": "quantitative", "stack": true},
             "order": {"field": "v", "type": "quantitative", "sort": "descending"},
             "color": {"field": "src", "type": "nominal", "scale": {"domain": ["CCOA", "OOA", "BBOA"], "range": ["#505050", "#f55cf0", "#cc9900"]},
                       "legend": {"title": null, "orient": "none", "legendX": 317, "legendY": -1, "symbolType": "M-2,-1H2V1H-2Z", "symbolSize": 169,
                                  "symbolStrokeColor": "#333", "symbolStrokeWidth": 1, "symbolOpacity": 1, "labelFontSize": 12, "labelOffset": 7,
                                  "rowPadding": -2, "labelColor": "#333", "padding": 0}}
           }},
          {"mark": {"type": "text", "radius": 147, "fontSize": 13, "color": "#333"},
           "encoding": {
             "theta": {"field": "v", "type": "quantitative", "stack": true},
             "order": {"field": "v", "type": "quantitative", "sort": "descending"},
             "detail": {"field": "src", "type": "nominal"},
             "text": {"field": "lab", "type": "nominal"}
           }}
        ]
      }
    ],
    "spacing": 65,
    "bounds": "flush",
    "resolve": {"scale": {"color": "independent", "x": "independent", "y": "independent"}}
  }
],
"spacing": -7,
"bounds": "full",
"resolve": {"scale": {"color": "independent", "x": "independent", "y": "independent"}}
}
